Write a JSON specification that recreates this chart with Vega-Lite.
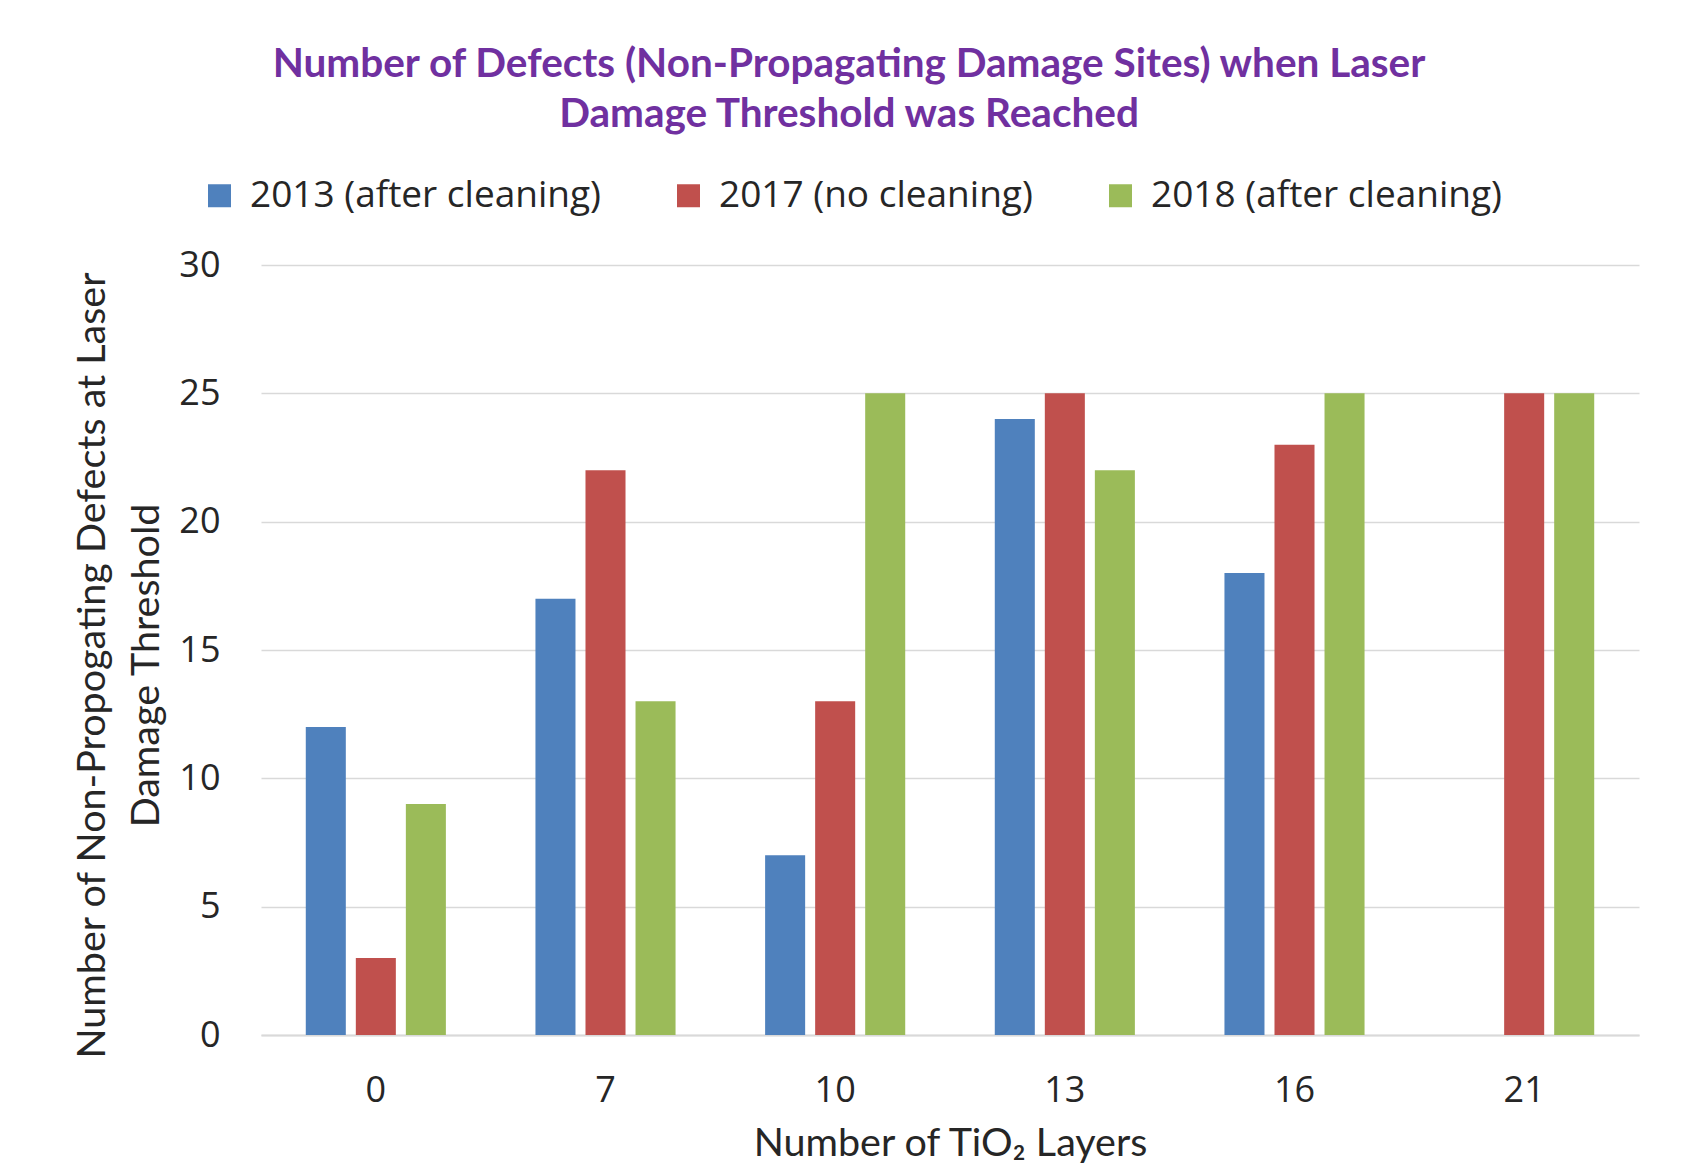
{
  "$schema": "https://vega.github.io/schema/vega-lite/v6.json",
  "autosize": {"type": "none"},
  "width": 1378,
  "height": 770,
  "padding": {"left": 261, "top": 265, "right": 43, "bottom": 133},
  "background": "white",
  "title": {
    "text": ["Number of Defects (Non-Propagating Damage Sites) when Laser", "Damage Threshold was Reached"],
    "color": "#7030A0",
    "font": "Lato",
    "fontWeight": "bold",
    "fontSize": 40.5,
    "lineHeight": 50,
    "anchor": "middle",
    "frame": "group",
    "dx": -101,
    "offset": 42
  },
  "data": {
    "values": [
      {"layers": "0", "series": "2013 (after cleaning)", "defects": 12},
      {"layers": "0", "series": "2017 (no cleaning)", "defects": 3},
      {"layers": "0", "series": "2018 (after cleaning)", "defects": 9},
      {"layers": "7", "series": "2013 (after cleaning)", "defects": 17},
      {"layers": "7", "series": "2017 (no cleaning)", "defects": 22},
      {"layers": "7", "series": "2018 (after cleaning)", "defects": 13},
      {"layers": "10", "series": "2013 (after cleaning)", "defects": 7},
      {"layers": "10", "series": "2017 (no cleaning)", "defects": 13},
      {"layers": "10", "series": "2018 (after cleaning)", "defects": 25},
      {"layers": "13", "series": "2013 (after cleaning)", "defects": 24},
      {"layers": "13", "series": "2017 (no cleaning)", "defects": 25},
      {"layers": "13", "series": "2018 (after cleaning)", "defects": 22},
      {"layers": "16", "series": "2013 (after cleaning)", "defects": 18},
      {"layers": "16", "series": "2017 (no cleaning)", "defects": 23},
      {"layers": "16", "series": "2018 (after cleaning)", "defects": 25},
      {"layers": "21", "series": "2017 (no cleaning)", "defects": 25},
      {"layers": "21", "series": "2018 (after cleaning)", "defects": 25}
    ]
  },
  "mark": {"type": "bar"},
  "encoding": {
    "x": {
      "field": "layers",
      "type": "nominal",
      "sort": ["0", "7", "10", "13", "16", "21"],
      "scale": {"paddingInner": 0.39, "paddingOuter": 0.195},
      "axis": {
        "title": "Number of TiO₂ Layers",
        "titleFont": "Lato",
        "titleFontWeight": "normal",
        "titleFontSize": 39.5,
        "titleColor": "#262626",
        "titlePadding": 16,
        "labelAngle": 0,
        "labelFont": "Open Sans",
        "labelFontSize": 36,
        "labelColor": "#262626",
        "labelPadding": 38,
        "ticks": false,
        "domainColor": "#D9D9D9",
        "domainWidth": 2
      }
    },
    "xOffset": {
      "field": "series",
      "type": "nominal",
      "sort": ["2013 (after cleaning)", "2017 (no cleaning)", "2018 (after cleaning)"],
      "scale": {"paddingInner": 0.2, "paddingOuter": 0}
    },
    "y": {
      "field": "defects",
      "type": "quantitative",
      "scale": {"domain": [0, 30], "nice": false},
      "axis": {
        "values": [0, 5, 10, 15, 20, 25, 30],
        "title": ["Number of Non-Propogating Defects at Laser", "Damage Threshold"],
        "titleFont": "Lato",
        "titleFontWeight": "normal",
        "titleFontSize": 39.5,
        "titleColor": "#262626",
        "titleLineHeight": 54,
        "titleAngle": -90,
        "titleAlign": "center",
        "titleBaseline": "alphabetic",
        "titleX": -157,
        "titleY": 400,
        "labelFont": "Open Sans",
        "labelFontSize": 36,
        "labelColor": "#262626",
        "labelPadding": 41,
        "ticks": false,
        "domain": false,
        "grid": true,
        "gridColor": "#D9D9D9",
        "gridWidth": 1.5
      }
    },
    "color": {
      "field": "series",
      "type": "nominal",
      "sort": ["2013 (after cleaning)", "2017 (no cleaning)", "2018 (after cleaning)"],
      "scale": {
        "domain": ["2013 (after cleaning)", "2017 (no cleaning)", "2018 (after cleaning)"],
        "range": ["#4F81BD", "#C0504D", "#9BBB59"]
      },
      "legend": {
        "title": null,
        "orient": "none",
        "direction": "horizontal",
        "legendX": -60,
        "legendY": -88,
        "symbolType": "square",
        "symbolSize": 529,
        "symbolStrokeWidth": 0,
        "labelFont": "Open Sans",
        "labelFontSize": 37,
        "labelColor": "#262626",
        "labelOffset": 12,
        "columnPadding": 69,
        "labelLimit": 600
      }
    }
  },
  "config": {"view": {"stroke": null}}
}
